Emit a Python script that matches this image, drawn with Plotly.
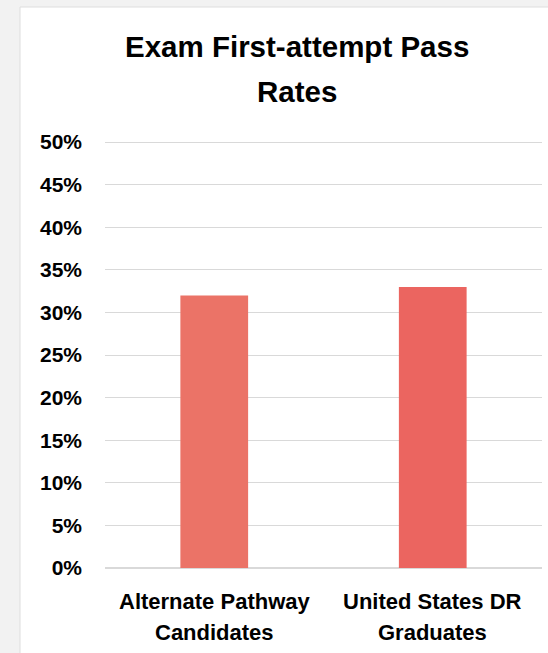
import plotly.graph_objects as go

categories = ["Alternate Pathway<br>Candidates", "United States DR<br>Graduates"]
pass_rates = [0.32, 0.33]
bar_colors = ["#EB7367", "#EB6560"]
y_ticks = [0, 0.05, 0.10, 0.15, 0.20, 0.25, 0.30, 0.35, 0.40, 0.45, 0.50]
title_lines = ["Exam First-attempt Pass", "Rates"]

W, H = 548, 653
L, R, T, B = 105, 6, 140, 85
YMAX = 0.5025
pw, ph = W - L - R, H - T - B

def px_x(x):
    return (x - L) / pw

def px_y(y):
    return (H - B - y) / ph

FONT = "Arial, Liberation Sans, sans-serif"

fig = go.Figure()
fig.add_trace(go.Bar(
    x=categories, y=pass_rates,
    marker=dict(color=bar_colors, line=dict(width=0)),
    width=0.31,
))

annotations = []
for i, line in enumerate(title_lines):
    annotations.append(dict(
        text=line, xref="paper", yref="paper",
        x=px_x(296.5), y=px_y([46.7, 91.7][i]), xanchor="center", yanchor="middle",
        showarrow=False, font=dict(size=29.5, family=FONT, weight=700, color="#000")))
for c in categories:
    for j, line in enumerate(c.split("<br>")):
        annotations.append(dict(
            text=line, xref="x", yref="paper",
            x=c, y=px_y([601.3, 632.0][j]), xanchor="center", yanchor="middle",
            showarrow=False, font=dict(size=22, family=FONT, weight=700, color="#000")))

fig.update_layout(
    width=W, height=H,
    margin=dict(l=L, r=R, t=T, b=B),
    paper_bgcolor="#f2f2f2",
    plot_bgcolor="rgba(0,0,0,0)",
    showlegend=False,
    font=dict(family=FONT, color="#000000"),
    shapes=[dict(
        type="rect", xref="paper", yref="paper", layer="below",
        x0=px_x(20), x1=px_x(600), y0=px_y(7), y1=px_y(720),
        fillcolor="#ffffff", line=dict(color="#dedede", width=1),
    )],
    annotations=annotations,
)

fig.update_yaxes(
    range=[0, YMAX], tickvals=y_ticks, tickformat=".0%",
    showgrid=True, gridcolor="#d9d9d9", gridwidth=1,
    zeroline=True, zerolinecolor="#d9d9d9", zerolinewidth=1.5,
    showline=False, ticks="", ticklabelstandoff=22,
    tickfont=dict(size=21, family=FONT, weight=700, color="#000"),
    fixedrange=True,
)
fig.update_xaxes(
    showgrid=False, showline=False, ticks="", showticklabels=False,
    fixedrange=True,
)

fig.write_html(
    "out.html",
    config=dict(displayModeBar=False),
    post_script="document.body.style.margin='0px';document.body.style.background='#f2f2f2';",
)
